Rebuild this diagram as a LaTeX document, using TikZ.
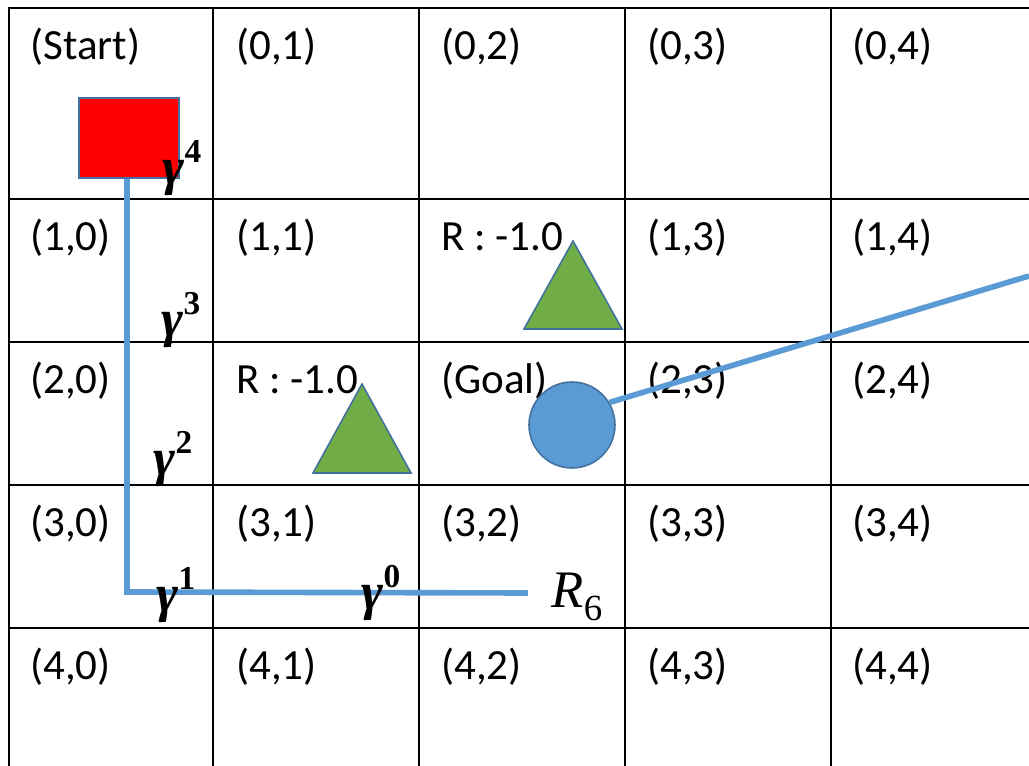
\documentclass[tikz,border=0pt]{standalone}
\usepackage{amsmath,amssymb}
\usepackage[no-math]{fontspec}
\setmainfont{Carlito}
\newfontfamily\gfont{Liberation Serif}
\usetikzlibrary{shapes.geometric}
\definecolor{pred}{HTML}{FF0000}
\definecolor{pgreen}{HTML}{70AD47}
\definecolor{pblue}{HTML}{5B9BD5}
\definecolor{pedge}{HTML}{41719C}
\newcommand{\gampow}[1]{{\gfont\bfseries\itshape γ}\raisebox{0.42em}{\gfont\bfseries\fontsize{19}{22}\selectfont #1}}

\begin{document}
\begin{tikzpicture}[x=0.02cm,y=-0.02cm,font=\fontsize{24.5}{28}\selectfont,
  grid/.style={line width=1.4pt,black},
  lbl/.style={anchor=base west,inner sep=0pt},
  g/.style={inner sep=0pt,font=\fontsize{30}{34}\selectfont},
  tri/.style={draw=pedge,fill=pgreen,line width=0.9pt},
  path/.style={pblue,line width=3.2pt}]
\useasboundingbox (0,0) rectangle (1029,766);
% --- grid ---
\draw[grid] (9,766)--(9,8)--(1029,8);
\draw[grid] (213,8)--(213,766);\draw[grid] (419,8)--(419,766);
\draw[grid] (625,8)--(625,766);\draw[grid] (831,8)--(831,766);
\draw[grid] (9,199)--(1029,199);\draw[grid] (9,342)--(1029,342);
\draw[grid] (9,485)--(1029,485);\draw[grid] (9,628)--(1029,628);
% --- cell labels ---
\node[lbl] (c00) at (30,60) {(Start)};
\node[lbl] (c01) at (236,60) {(0,1)};
\node[lbl] (c02) at (441,60) {(0,2)};
\node[lbl] (c03) at (647,60) {(0,3)};
\node[lbl] (c04) at (852,60) {(0,4)};
\node[lbl] (c10) at (30,251) {(1,0)};
\node[lbl] (c11) at (236,251) {(1,1)};
\node[lbl] (c12) at (441,251) {R : -1.0};
\node[lbl] (c13) at (647,251) {(1,3)};
\node[lbl] (c14) at (852,251) {(1,4)};
\node[lbl] (c20) at (30,394) {(2,0)};
\node[lbl] (c21) at (236,394) {R : -1.0};
\node[lbl] (c22) at (441,394) {(Goal)};
\node[lbl] (c23) at (647,394) {(2,3)};
\node[lbl] (c24) at (852,394) {(2,4)};
\node[lbl] (c30) at (30,537) {(3,0)};
\node[lbl] (c31) at (236,537) {(3,1)};
\node[lbl] (c32) at (441,537) {(3,2)};
\node[lbl] (c33) at (647,537) {(3,3)};
\node[lbl] (c34) at (852,537) {(3,4)};
\node[lbl] (c40) at (30,680) {(4,0)};
\node[lbl] (c41) at (236,680) {(4,1)};
\node[lbl] (c42) at (441,680) {(4,2)};
\node[lbl] (c43) at (647,680) {(4,3)};
\node[lbl] (c44) at (852,680) {(4,4)};
% --- objects ---
\draw[tri] (573,241)--(622,329)--(524,329)--cycle;
\draw[tri] (362,384)--(411,473)--(313,473)--cycle;
\node[draw=pedge,fill=pred,line width=0.9pt,inner sep=0pt,
  minimum width=2cm,minimum height=1.6cm] (start) at (129,138) {};
\node[circle,draw=pedge,fill=pblue,line width=0.9pt,minimum size=1.72cm,inner sep=0pt] (goal) at (572,425) {};
% --- path back to start ---
\coordinate (turn) at (127,592);
\coordinate (stop) at (528,593);
\coordinate (exit) at (1029,276);
\draw[path] (start.south-|turn)--(turn)--(stop);
\draw[path] (goal.31)--(exit);
% --- discount labels ---
\node[g] (g4) at (182,168) {\gampow{4}};
\node[g] (g3) at (181,320) {\gampow{3}};
\node[g] (g2) at (173,459) {\gampow{2}};
\node[g] (g1) at (176,595) {\gampow{1}};
\node[g] (g0) at (381,593) {\gampow{0}};
\node[inner sep=0pt,font=\fontsize{30}{34}\selectfont] (r6) at (577,597) {{\gfont\itshape R}\raisebox{-0.25em}{\gfont\fontsize{21}{24}\selectfont 6}};
\end{tikzpicture}
\end{document}
